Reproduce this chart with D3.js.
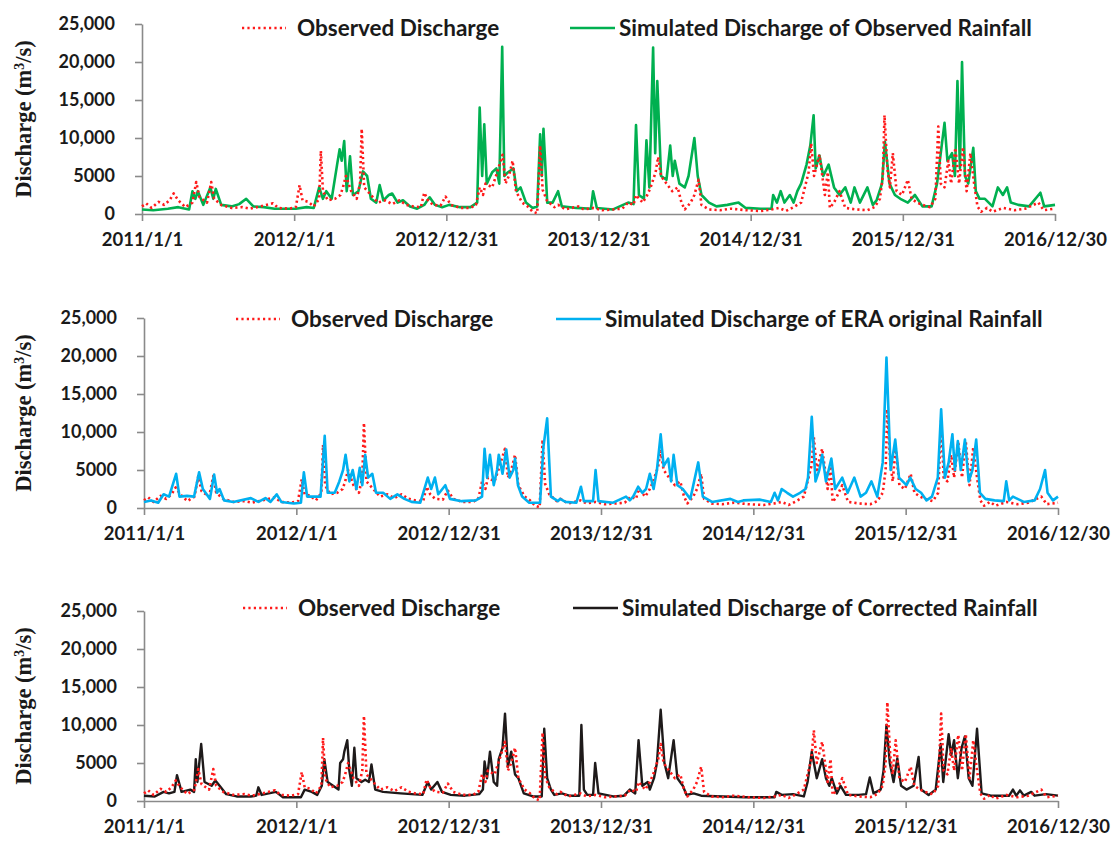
<!DOCTYPE html>
<html>
<head>
<meta charset="utf-8">
<script src="https://cdn.jsdelivr.net/npm/d3@7"></script>
<style>
  body { margin: 0; background: #fff; }
  svg { display: block; }
</style>
</head>
<body>
<svg id="chart" width="1116" height="841"></svg>
<script>
// ---------------- DATA ----------------
// x values are day offsets from 2011/1/1, y values are discharge (m3/s)
const startDate = new Date(2011, 0, 1);
const endDate = new Date(2016, 11, 30);
const xTickLabels = ["2011/1/1", "2012/1/1", "2012/12/31", "2013/12/31", "2014/12/31", "2015/12/31", "2016/12/30"];
const yTickValues = [0, 5000, 10000, 15000, 20000, 25000];
const yTickLabels = ["0", "5000", "10,000", "15,000", "20,000", "25,000"];
const panelTitles = ["Simulated Discharge of Observed Rainfall", "Simulated Discharge of ERA original Rainfall", "Simulated Discharge of Corrected Rainfall"];
const observedLabel = "Observed Discharge";

const observed = [
  [0,1000],[10,1400],[23,800],[40,1600],[53,1200],[66,1800],[76,2700],[87,1800],[104,900],[121,1500],
  [130,4200],[138,2200],[156,1500],[166,4200],[173,2000],[190,1200],[215,800],[241,900],[258,700],[284,1000],
  [314,1400],[327,800],[352,700],[369,900],[378,3800],[385,1800],[399,1600],[412,1000],[425,2000],[429,8300],
  [434,3000],[446,1800],[463,2000],[476,2500],[482,3500],[489,5000],[502,3000],[515,2000],[523,4000],[527,11200],
  [533,3500],[549,2500],[566,1500],[583,1800],[600,1300],[617,1800],[634,1200],[651,1000],[669,900],[677,2800],
  [686,1800],[698,1200],[716,1100],[728,2300],[741,1200],[763,800],[788,800],[801,1200],[810,3500],[818,2500],
  [824,4000],[840,3500],[852,5500],[865,7800],[872,4000],[880,5000],[889,7000],[897,3000],[912,1500],[925,1000],
  [937,300],[948,100],[955,9000],[961,3200],[971,1800],[989,900],[998,1200],[1016,600],[1046,1000],[1060,600],
  [1082,800],[1104,500],[1130,600],[1152,700],[1166,1500],[1179,1200],[1185,2500],[1201,1500],[1212,2500],[1220,3500],
  [1232,5500],[1238,7500],[1245,5000],[1258,4000],[1272,3000],[1285,3500],[1294,1500],[1302,600],[1316,1500],[1325,2500],
  [1335,4500],[1342,1200],[1360,600],[1386,500],[1413,700],[1448,500],[1484,400],[1510,600],[1528,800],[1545,400],
  [1563,900],[1581,1500],[1599,5500],[1605,9300],[1612,5000],[1625,7800],[1638,2500],[1645,5500],[1650,800],[1660,1500],
  [1673,3000],[1687,800],[1713,600],[1740,500],[1757,900],[1770,2000],[1777,5000],[1781,13000],[1788,6000],[1794,3500],
  [1801,8000],[1810,3000],[1823,2500],[1837,4500],[1846,2000],[1859,1500],[1872,1200],[1890,900],[1903,2000],[1910,11500],
  [1916,4000],[1925,3500],[1934,7000],[1941,4000],[1951,8700],[1960,4000],[1969,8800],[1978,3000],[1987,8000],[1996,4000],
  [2004,1000],[2013,300],[2027,800],[2040,300],[2066,800],[2093,500],[2119,700],[2150,1500],[2163,500],[2190,700]
];

const simObservedRain = [
  [0,600],[27,500],[62,700],[87,900],[113,600],[121,3000],[128,2000],[134,3000],[147,1200],[164,3500],
  [171,2000],[177,3300],[190,1200],[215,1000],[233,1300],[250,2000],[267,1000],[292,900],[318,700],[344,700],
  [369,700],[395,900],[412,800],[425,3500],[434,2000],[442,3000],[455,2000],[468,6500],[474,8500],[479,7000],
  [485,9600],[491,3000],[499,7600],[506,2500],[519,3000],[530,5600],[540,5000],[549,2000],[562,1500],[570,3800],
  [579,1800],[592,2500],[600,2700],[613,1500],[626,1800],[643,1000],[660,700],[677,1200],[690,2200],[703,1200],
  [720,900],[737,1200],[763,900],[788,900],[804,1500],[810,14000],[816,5000],[821,11800],[827,4000],[840,5500],
  [850,6000],[857,4000],[864,22000],[869,5000],[878,5500],[891,6000],[899,3000],[908,3500],[921,1500],[937,800],
  [948,1000],[955,10500],[959,5000],[963,11200],[972,1500],[985,1500],[998,3000],[1007,1000],[1042,800],[1077,700],
  [1082,3000],[1091,800],[1130,600],[1166,1500],[1179,1300],[1185,11700],[1192,2500],[1204,2000],[1210,9700],[1217,3500],
  [1226,21900],[1231,8000],[1236,17500],[1245,5000],[1258,4500],[1267,9000],[1273,5000],[1278,7000],[1289,4000],[1302,3500],
  [1311,5000],[1325,10000],[1333,5000],[1342,2500],[1360,1500],[1378,1000],[1404,1200],[1431,1500],[1448,800],[1484,700],
  [1510,700],[1514,2500],[1523,1500],[1532,3000],[1541,1500],[1554,2500],[1563,1500],[1572,3000],[1581,4000],[1594,6500],
  [1603,9000],[1611,13000],[1616,6000],[1625,7700],[1634,5000],[1647,6500],[1660,3500],[1673,2500],[1687,3500],[1700,1500],
  [1709,3500],[1722,1500],[1740,3500],[1753,1200],[1762,1800],[1775,4000],[1782,9500],[1793,4000],[1806,2500],[1819,2000],
  [1837,1500],[1854,2500],[1872,1000],[1894,1000],[1907,4000],[1916,8000],[1925,12000],[1932,7000],[1943,8000],[1950,5000],
  [1956,17500],[1962,6000],[1967,20000],[1974,5000],[1982,4000],[1994,8700],[2000,3000],[2009,2000],[2022,2000],[2040,1000],
  [2053,3500],[2065,2500],[2075,3500],[2084,1500],[2102,1200],[2128,1000],[2155,2800],[2164,1000],[2190,1200]
];

const simEraRain = [
  [0,800],[17,1000],[34,700],[47,1800],[60,1500],[77,4500],[85,1500],[103,1600],[120,1500],[132,4700],
  [141,2500],[158,1200],[168,4400],[175,2000],[181,2500],[192,1000],[214,800],[256,1300],[274,800],[291,1300],
  [303,800],[318,1800],[329,800],[359,600],[376,700],[383,4700],[391,1500],[410,1500],[423,1500],[433,9500],
  [440,2000],[457,2000],[468,3500],[477,5000],[483,7000],[492,3500],[500,5000],[509,2500],[517,5300],[523,3000],
  [530,7000],[537,4000],[547,4500],[556,2000],[573,2000],[590,1200],[607,1800],[624,1200],[641,800],[662,700],
  [680,4000],[688,2500],[697,4000],[705,1800],[722,3000],[733,1200],[761,900],[795,1000],[810,1500],[816,7800],
  [822,4000],[829,7000],[838,3000],[846,5000],[850,7000],[859,4500],[868,7700],[876,4000],[885,5000],[889,6500],
  [896,3000],[906,1500],[923,700],[949,700],[957,8000],[966,11800],[975,1500],[992,900],[997,1200],[1010,800],
  [1036,700],[1047,2800],[1054,900],[1076,900],[1082,5000],[1089,900],[1124,700],[1155,1500],[1164,1000],[1172,1500],
  [1184,2800],[1194,2000],[1203,2500],[1212,4500],[1221,2500],[1229,5000],[1238,9700],[1245,5500],[1256,6500],[1263,3500],
  [1269,7000],[1278,3000],[1291,2500],[1309,1200],[1328,6000],[1339,1500],[1361,800],[1405,1200],[1423,800],[1436,1000],
  [1475,1100],[1502,800],[1511,2000],[1519,1000],[1528,2500],[1541,2000],[1555,1500],[1572,2000],[1585,2500],[1591,4000],
  [1600,12000],[1609,3500],[1618,5000],[1625,7000],[1634,3500],[1647,6500],[1656,2500],[1673,4000],[1686,2000],[1702,4000],
  [1717,1500],[1730,2000],[1743,3500],[1757,1500],[1770,6000],[1779,19800],[1784,12500],[1789,5000],[1800,9000],[1809,4000],
  [1818,3500],[1827,3000],[1836,4000],[1849,2500],[1862,2000],[1875,1000],[1888,1500],[1902,4000],[1910,13000],[1919,4000],
  [1928,6000],[1937,9700],[1943,5000],[1950,8800],[1957,5000],[1967,9000],[1976,3500],[1985,5000],[1994,9000],[2003,2000],
  [2016,1200],[2038,1000],[2060,900],[2066,3500],[2073,1000],[2082,1500],[2108,800],[2134,1000],[2147,2500],[2159,5000],
  [2165,2000],[2178,1000],[2190,1500]
];

const simCorrectedRain = [
  [0,700],[26,600],[47,1200],[60,1000],[73,1200],[79,3400],[90,1200],[111,1500],[120,1200],[124,5500],
  [128,2500],[137,7500],[145,2500],[162,2000],[171,2700],[184,1800],[197,900],[222,600],[256,600],[269,700],
  [274,1800],[282,800],[316,1200],[333,500],[376,500],[385,1500],[402,1200],[415,800],[426,2000],[432,5500],
  [440,2500],[453,2000],[466,1500],[470,5000],[477,5500],[480,6500],[487,8000],[492,4000],[498,2000],[504,7000],
  [509,3000],[521,2500],[530,2800],[539,2500],[545,4800],[554,1500],[573,1200],[615,1000],[667,800],[680,2500],
  [688,1500],[703,2500],[714,1200],[735,800],[769,700],[803,900],[812,1500],[816,5200],[822,3000],[829,6500],
  [838,2500],[846,2000],[850,5500],[859,7000],[865,11500],[872,4500],[880,6500],[889,3500],[897,3000],[910,1000],
  [932,600],[953,600],[959,9500],[966,3000],[975,1500],[983,800],[1001,1000],[1019,700],[1043,700],[1048,10000],
  [1054,1500],[1062,800],[1076,800],[1081,5000],[1089,1000],[1124,600],[1150,700],[1164,1500],[1177,1000],[1185,8000],
  [1194,2000],[1207,2500],[1212,1500],[1222,3000],[1229,5000],[1238,12000],[1247,5000],[1256,3000],[1269,8000],[1278,3000],
  [1291,2000],[1300,800],[1317,1000],[1335,700],[1388,600],[1440,500],[1511,500],[1515,1200],[1528,800],[1555,900],
  [1581,600],[1590,2500],[1600,6500],[1612,3000],[1625,5500],[1634,3000],[1642,2000],[1648,3000],[1660,1000],[1669,2000],
  [1682,800],[1713,800],[1730,900],[1739,3100],[1748,1000],[1765,1500],[1772,4000],[1779,10000],[1787,5000],[1796,2500],
  [1805,5600],[1814,2000],[1827,1500],[1844,2000],[1856,5800],[1862,1500],[1880,800],[1897,1500],[1909,7500],[1915,2500],
  [1928,8800],[1934,6000],[1941,8000],[1950,3000],[1959,7000],[1967,8500],[1976,3000],[1985,2000],[1996,9500],[2007,1000],
  [2029,700],[2073,700],[2082,1500],[2090,700],[2099,1400],[2108,700],[2126,1200],[2134,700],[2161,900],[2190,700]
];

const simSeries = [simObservedRain, simEraRain, simCorrectedRain];
const simColors = ["#00b050", "#00b0f0", "#1e1a1a"];
const simOnTop = [false, true, false];

// ---------------- LAYOUT ----------------
const svg = d3.select("#chart");
const panels = [
  { top: 0,   x0: 142, x1: 1055, legObsX: 242, legSimX: 570, legY: 28 },
  { top: 294, x0: 144, x1: 1058, legObsX: 236, legSimX: 556, legY: 25 },
  { top: 587, x0: 144, x1: 1058, legObsX: 243, legSimX: 573, legY: 21 }
];
const yTopPx = 24, yZeroPx = 214;

const axisColor = "#8a8a8a";
const tickFont = "Lato, 'Open Sans', sans-serif";

panels.forEach((p, i) => {
  const g = svg.append("g").attr("transform", `translate(0,${p.top})`);
  const x = d3.scaleTime().domain([startDate, endDate]).range([p.x0, p.x1]);
  const y = d3.scaleLinear().domain([0, 25000]).range([yZeroPx, yTopPx]);
  const tickDates = d3.range(xTickLabels.length).map(k => d3.timeDay.offset(startDate, k * 365));

  // axes
  const xAxis = d3.axisBottom(x).tickValues(tickDates).tickFormat((d, k) => xTickLabels[k])
    .tickSize(7).tickSizeOuter(0).tickPadding(12);
  const gx = g.append("g").attr("transform", `translate(0,${yZeroPx})`).call(xAxis);
  const yAxis = d3.axisLeft(y).tickValues(yTickValues).tickFormat((d, k) => yTickLabels[k])
    .tickSize(7).tickSizeOuter(0).tickPadding(20);
  const gy = g.append("g").attr("transform", `translate(${p.x0},0)`).call(yAxis);
  [gx, gy].forEach(ax => {
    ax.select(".domain").attr("stroke", axisColor).attr("stroke-width", 1.6);
    ax.selectAll(".tick line").attr("stroke", axisColor).attr("stroke-width", 1.6);
    ax.selectAll(".tick text").attr("fill", "#1a1a1a").attr("font-family", tickFont)
      .attr("font-weight", "bold").attr("font-size", 18.5);
  });
  gy.selectAll(".tick text").attr("font-size", 18);

  // y title
  const t = g.append("text")
    .attr("transform", `translate(31,${(yTopPx + yZeroPx) / 2}) rotate(-90)`)
    .attr("text-anchor", "middle")
    .attr("font-family", "'Liberation Serif', 'Times New Roman', serif")
    .attr("font-weight", "bold").attr("font-size", 22.5).attr("fill", "#1a1a1a");
  t.append("tspan").text("Discharge (m");
  t.append("tspan").attr("baseline-shift", "super").attr("font-size", 14).text("3");
  t.append("tspan").text("/s)");

  // lines
  const line = d3.line()
    .x(d => x(d3.timeDay.offset(startDate, d[0])))
    .y(d => y(d[1]));
  const drawObs = () => g.append("path").datum(observed).attr("d", line)
    .attr("fill", "none").attr("stroke", "#ff1a1a").attr("stroke-width", 2.6)
    .attr("stroke-dasharray", "2.2,3").attr("stroke-linejoin", "round");
  const drawSim = () => g.append("path").datum(simSeries[i]).attr("d", line)
    .attr("fill", "none").attr("stroke", simColors[i]).attr("stroke-width", i === 2 ? 2.4 : 2.6)
    .attr("stroke-linejoin", "round");
  if (simOnTop[i]) { drawObs(); drawSim(); } else { drawSim(); drawObs(); }

  // legend
  const ly = p.legY;
  const leg = g.append("g");
  leg.append("line").attr("x1", p.legObsX).attr("x2", p.legObsX + 44).attr("y1", ly).attr("y2", ly)
    .attr("stroke", "#ff1a1a").attr("stroke-width", 2.6).attr("stroke-dasharray", "2.2,3.2");
  leg.append("text").attr("x", p.legObsX + 55).attr("y", ly).attr("dy", "0.35em")
    .attr("font-family", tickFont).attr("font-weight", "bold").attr("font-size", 22.5)
    .attr("fill", "#1a1a1a").text(observedLabel);
  leg.append("line").attr("x1", p.legSimX).attr("x2", p.legSimX + 45).attr("y1", ly).attr("y2", ly)
    .attr("stroke", simColors[i]).attr("stroke-width", 2.6);
  leg.append("text").attr("x", p.legSimX + 49).attr("y", ly).attr("dy", "0.35em")
    .attr("font-family", tickFont).attr("font-weight", "bold").attr("font-size", 22.5)
    .attr("fill", "#1a1a1a").text(panelTitles[i]);
});
</script>
</body>
</html>
